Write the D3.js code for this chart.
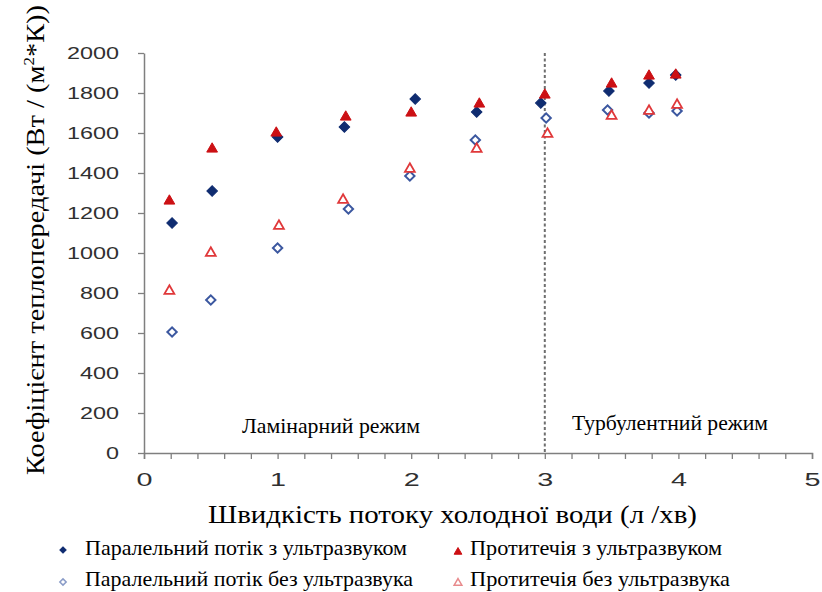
<!DOCTYPE html>
<html>
<head>
<meta charset="utf-8">
<script src="https://cdn.jsdelivr.net/npm/d3@7"></script>
<style>
  body { margin: 0; background: #fff; }
  svg { display: block; }
</style>
</head>
<body>
<div id="chart"></div>
<script>
// values
const xParUS = [0.21, 0.51, 1.0, 1.5, 2.03, 2.49, 2.97, 3.48, 3.78, 3.98];
const parUS = [1150, 1310, 1580, 1630, 1770, 1705, 1750, 1810, 1850, 1890];
const xCntUS = [0.19, 0.51, 0.99, 1.51, 2.0, 2.51, 3.0, 3.5, 3.78, 3.98];
const cntUS = [1260, 1520, 1600, 1680, 1700, 1745, 1790, 1845, 1885, 1890];
const xParNo = [0.21, 0.5, 1.0, 1.53, 1.99, 2.48, 3.01, 3.47, 3.78, 3.99];
const parNo = [605, 765, 1025, 1220, 1385, 1565, 1675, 1715, 1700, 1710];
const xCntNo = [0.19, 0.5, 1.01, 1.49, 1.99, 2.49, 3.02, 3.5, 3.78, 3.99];
const cntNo = [810, 1000, 1135, 1265, 1420, 1520, 1595, 1685, 1710, 1740];

const xTicks = [0, 1, 2, 3, 4, 5];
const yTicks = [0, 200, 400, 600, 800, 1000, 1200, 1400, 1600, 1800, 2000];
const regimeBorder = 3;

const legendNames = [
  "Паралельний потік з ультразвуком",
  "Протитечія з ультразвуком",
  "Паралельний потік без ультразвука",
  "Протитечія без ультразвука"
];

const width = 822, height = 592;
const serif = "'Liberation Serif', 'Times New Roman', 'DejaVu Serif', serif";
const sans = "'Liberation Sans', Arial, sans-serif";

const svg = d3.select("#chart")
  .append("svg")
  .attr("width", width)
  .attr("height", height);

const x = d3.scaleLinear().domain([0, 5]).range([144, 812]);
const y = d3.scaleLinear().domain([0, 2000]).range([453, 53]);

// x axis with minor ticks every 0.2
const isMajor = d => Math.abs(d - Math.round(d)) < 1e-6 && xTicks.includes(Math.round(d));
const xAxis = svg.append("g")
  .attr("transform", `translate(0,${y(0)})`)
  .call(d3.axisBottom(x).tickValues(d3.range(0, 5.01, 0.2)).tickSize(6).tickPadding(14)
    .tickFormat(d => isMajor(d) ? String(Math.round(d)) : ""))
  .call(g => g.select(".domain").attr("stroke", "#7f7f7f").attr("stroke-width", 1.5));
xAxis.selectAll(".tick line").attr("stroke", "#7f7f7f").attr("stroke-width", 1.3);
xAxis.selectAll(".tick text")
  .attr("fill", "#303030")
  .style("font-family", sans)
  .style("font-size", "19px")
  .attr("textLength", function() { return this.textContent.length ? 16 * this.textContent.length : null; })
  .attr("lengthAdjust", "spacingAndGlyphs");

const yAxis = svg.append("g")
  .attr("transform", `translate(${x(0)},0)`)
  .call(d3.axisLeft(y).tickValues(yTicks).tickFormat(d3.format("d")).tickSize(6).tickPadding(19).tickSizeOuter(0))
  .call(g => g.select(".domain").attr("stroke", "#7f7f7f").attr("stroke-width", 1.5));
yAxis.selectAll(".tick line").attr("stroke", "#7f7f7f").attr("stroke-width", 1.3);
yAxis.selectAll(".tick text")
  .attr("fill", "#303030")
  .style("font-family", sans)
  .style("font-size", "17px")
  .attr("textLength", function() { return 13 * this.textContent.length; })
  .attr("lengthAdjust", "spacingAndGlyphs");

// laminar / turbulent border
svg.append("line")
  .attr("x1", x(regimeBorder)).attr("x2", x(regimeBorder))
  .attr("y1", y(2000)).attr("y2", y(0))
  .attr("stroke", "#6e6e6e")
  .attr("stroke-width", 2)
  .attr("stroke-dasharray", "3,2.5");

svg.append("text")
  .attr("x", 242).attr("y", 433)
  .attr("textLength", 178).attr("lengthAdjust", "spacingAndGlyphs")
  .style("font-family", serif).style("font-size", "21px")
  .text("Ламінарний режим");

svg.append("text")
  .attr("x", 572).attr("y", 430)
  .attr("textLength", 196).attr("lengthAdjust", "spacingAndGlyphs")
  .style("font-family", serif).style("font-size", "21px")
  .text("Турбулентний режим");

// markers
const diamond = d3.symbol().type(d3.symbolSquare);
const tri = d3.symbol().type(d3.symbolTriangle);

const series = [
  { xs: xParNo, ys: parNo, shape: "d", fill: "#fff", stroke: "#3c58a0", sw: 2 },
  { xs: xCntNo, ys: cntNo, shape: "t", fill: "#fff", stroke: "#e0383a", sw: 1.8 },
  { xs: xParUS, ys: parUS, shape: "d", fill: "#0f2c70", stroke: "#0f2c70", sw: 1 },
  { xs: xCntUS, ys: cntUS, shape: "t", fill: "#cc1014", stroke: "#cc1014", sw: 1 }
];

function markerPath(shape, size) {
  return shape === "d" ? diamond.size(size)() : tri.size(size)();
}

series.forEach(s => {
  svg.append("g").selectAll("path")
    .data(s.xs.map((v, i) => [v, s.ys[i]]))
    .enter()
    .append("path")
    .attr("d", markerPath(s.shape, s.shape === "d" ? (s.fill === "#fff" ? 44 : 56) : (s.fill === "#fff" ? 42 : 50)))
    .attr("transform", d => `translate(${x(d[0])},${y(d[1])})` + (s.shape === "d" ? " rotate(45)" : ""))
    .attr("fill", s.fill)
    .attr("stroke", s.stroke)
    .attr("stroke-width", s.sw);
});

// axis titles
svg.append("text")
  .attr("x", 208).attr("y", 523)
  .attr("textLength", 489).attr("lengthAdjust", "spacingAndGlyphs")
  .style("font-family", serif).style("font-size", "26px")
  .text("Швидкість потоку холодної води (л /хв)");

const yTitle = svg.append("text")
  .attr("transform", "translate(44,475) rotate(-90)")
  .attr("textLength", 470).attr("lengthAdjust", "spacingAndGlyphs")
  .style("font-family", serif).style("font-size", "25px");
yTitle.append("tspan").text("Коефіцієнт теплопередачі (Вт / (м");
yTitle.append("tspan").attr("dy", -10).style("font-size", "15px").text("2");
yTitle.append("tspan").attr("dy", 10).text("*К))");

// legend
const legendItems = [
  { name: legendNames[0], shape: "d", fill: "#0f2c70", stroke: "#0f2c70", mx: 63, my: 550, tx: 85, ty: 555, tl: 322 },
  { name: legendNames[1], shape: "t", fill: "#cc1014", stroke: "#cc1014", mx: 458, my: 552, tx: 470, ty: 555, tl: 252 },
  { name: legendNames[2], shape: "d", fill: "#fff", stroke: "#8a9cc8", mx: 63, my: 582, tx: 85, ty: 586, tl: 328 },
  { name: legendNames[3], shape: "t", fill: "#fff", stroke: "#e88a8c", mx: 458, my: 583, tx: 470, ty: 586, tl: 260 }
];

const legend = svg.append("g");
legendItems.forEach(it => {
  legend.append("path")
    .attr("d", markerPath(it.shape, it.shape === "d" ? 20 : 26))
    .attr("transform", `translate(${it.mx},${it.my})` + (it.shape === "d" ? " rotate(45)" : ""))
    .attr("fill", it.fill)
    .attr("stroke", it.stroke)
    .attr("stroke-width", it.fill === "#fff" ? 1.5 : 1);
  legend.append("text")
    .attr("x", it.tx).attr("y", it.ty)
    .attr("textLength", it.tl).attr("lengthAdjust", "spacingAndGlyphs")
    .style("font-family", serif).style("font-size", "22px")
    .text(it.name);
});
</script>
</body>
</html>
